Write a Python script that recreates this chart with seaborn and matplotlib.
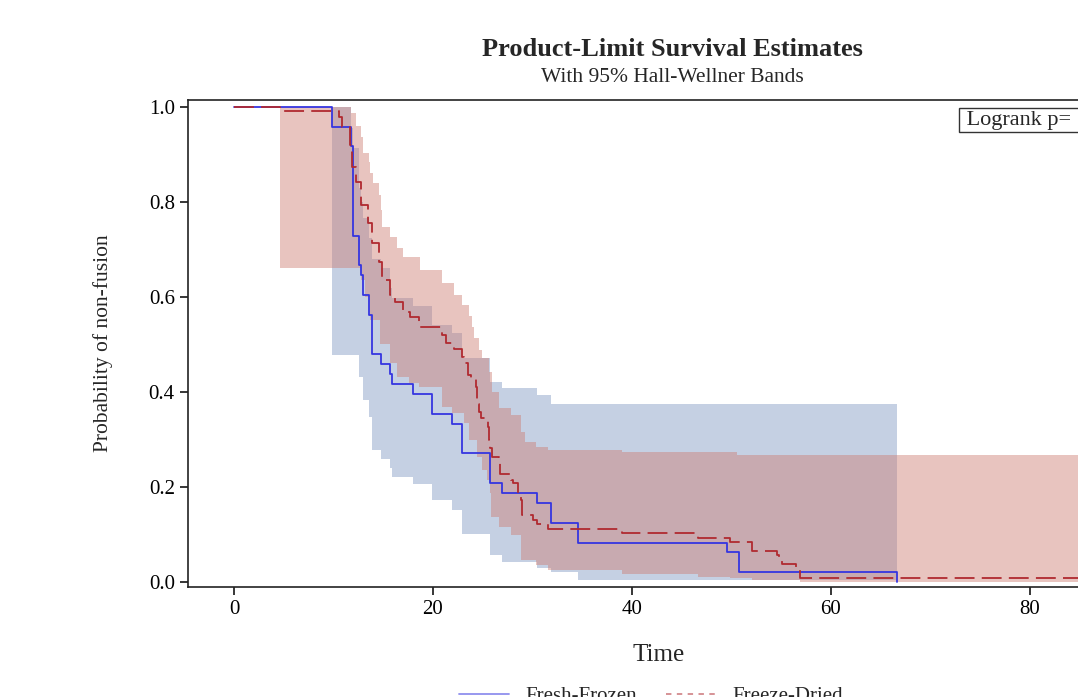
import matplotlib
matplotlib.use("Agg")
import matplotlib.pyplot as plt
from matplotlib.lines import Line2D
import seaborn as sns
import pandas as pd

# Fresh-Frozen: Kaplan-Meier estimate (time of drop, survival after drop)
ff_time = [0, 9.9, 11.8, 12.0, 12.6, 12.8, 13.0, 13.6, 13.9, 14.8, 15.7, 15.9,
           18.0, 19.9, 21.9, 22.9, 25.7, 26.9, 30.5, 31.9, 34.6, 49.6, 50.8, 66.7]
ff_surv = [1.0, 0.958, 0.917, 0.729, 0.667, 0.646, 0.604, 0.563, 0.479, 0.458, 0.438, 0.417,
           0.396, 0.354, 0.333, 0.271, 0.208, 0.188, 0.167, 0.125, 0.083, 0.063, 0.021, 0.0]

# Fresh-Frozen Hall-Wellner band
ff_band_t = [9.9, 11.8, 12.0, 12.6, 12.8, 13.0, 13.6, 13.9, 14.8, 15.7, 15.9, 18.0,
             19.9, 21.9, 22.9, 25.7, 26.9, 30.5, 31.9, 34.6, 66.7]
ff_lower = [0.478, 0.478, 0.478, 0.432, 0.432, 0.383, 0.348, 0.278, 0.259, 0.239, 0.222, 0.206,
            0.173, 0.152, 0.102, 0.057, 0.043, 0.030, 0.022, 0.005, 0.005]
ff_upper = [1.0, 0.955, 0.913, 0.829, 0.80, 0.766, 0.724, 0.68, 0.66, 0.618, 0.597, 0.58,
            0.541, 0.524, 0.471, 0.42, 0.408, 0.394, 0.374, 0.374, 0.374]

# Freeze-Dried: Kaplan-Meier estimate
fd_time = [0, 4.6, 10.6, 10.9, 11.7, 11.9, 12.3, 12.8, 13.5, 13.9, 14.6, 14.9, 15.7,
           16.2, 17.0, 17.7, 18.6, 20.9, 21.3, 22.1, 22.9, 23.1, 23.5, 23.8, 24.3, 24.4,
           24.6, 24.8, 25.5, 25.6, 25.7, 25.9, 26.6, 26.7, 27.9, 28.1, 28.6, 28.9, 29.0,
           30.1, 30.5, 31.6, 39.0, 46.7, 49.9, 52.1, 54.6, 54.8, 55.1, 56.5, 56.9, 90.0]
fd_surv = [1.0, 0.992, 0.978, 0.957, 0.92, 0.874, 0.843, 0.794, 0.755, 0.713, 0.674, 0.636, 0.604,
           0.59, 0.569, 0.558, 0.537, 0.52, 0.503, 0.49, 0.474, 0.46, 0.436, 0.429, 0.411, 0.375,
           0.358, 0.345, 0.327, 0.30, 0.282, 0.264, 0.25, 0.227, 0.215, 0.208, 0.187, 0.173, 0.141,
           0.131, 0.122, 0.112, 0.1025, 0.093, 0.084, 0.065, 0.057, 0.048, 0.038, 0.027, 0.009, 0.009]

# Freeze-Dried Hall-Wellner band
fd_band_t = [4.6, 11.8, 12.3, 12.8, 13.0, 13.2, 13.6, 13.7, 14.0, 14.6, 14.7, 14.8, 14.9,
             15.7, 16.4, 17.0, 17.6, 18.6, 18.7, 20.9, 21.9, 22.1, 22.9, 23.1, 23.6, 23.9,
             24.1, 24.4, 24.6, 24.9, 25.4, 25.6, 25.7, 25.8, 25.9, 26.6, 27.9, 28.9, 29.3,
             30.4, 31.6, 39.0, 46.7, 49.9, 50.6, 52.1, 56.9, 90.0]
fd_lower = [0.662, 0.662, 0.662, 0.636, 0.636, 0.60, 0.60, 0.552, 0.552, 0.552, 0.50, 0.50, 0.50,
            0.46, 0.432, 0.432, 0.418, 0.411, 0.411, 0.369, 0.355, 0.355, 0.355, 0.334, 0.299, 0.299,
            0.299, 0.264, 0.264, 0.236, 0.215, 0.215, 0.187, 0.137, 0.137, 0.116, 0.10, 0.046, 0.046,
            0.035, 0.025, 0.017, 0.011, 0.008, 0.008, 0.004, 0.001, 0.001]
fd_upper = [1.0, 0.987, 0.959, 0.937, 0.903, 0.903, 0.885, 0.86, 0.839, 0.815, 0.815, 0.783, 0.748,
            0.727, 0.703, 0.685, 0.685, 0.685, 0.657, 0.629, 0.629, 0.604, 0.583, 0.583, 0.559, 0.537,
            0.513, 0.513, 0.488, 0.471, 0.471, 0.443, 0.443, 0.443, 0.40, 0.366, 0.352, 0.316, 0.295,
            0.285, 0.278, 0.274, 0.274, 0.274, 0.267, 0.267, 0.267, 0.267]

groups = ["Fresh-Frozen", "Freeze-Dried"]
x_ticks = [0, 20, 40, 60, 80]
y_ticks = [0.0, 0.2, 0.4, 0.6, 0.8, 1.0]

sns.set_style("ticks")
plt.rcParams["font.family"] = ["Liberation Serif", "DejaVu Serif"]

blue_line = "#3535e0"
red_line = "#b02a30"
blue_fill = (129 / 255, 153 / 255, 196 / 255)
red_fill = (205 / 255, 127 / 255, 116 / 255)

fig = plt.figure(figsize=(10.78, 6.97), dpi=100)
ax = fig.add_axes([188 / 1078, 110 / 697, 941 / 1078, 487 / 697])

ax.fill_between(ff_band_t, ff_lower, ff_upper, step="post", color=blue_fill, alpha=0.46, lw=0)
ax.fill_between(fd_band_t, fd_lower, fd_upper, step="post", color=red_fill, alpha=0.46, lw=0)

ff = pd.DataFrame({"time": ff_time, "surv": ff_surv})
fd = pd.DataFrame({"time": fd_time, "surv": fd_surv})
sns.lineplot(data=ff, x="time", y="surv", ax=ax, estimator=None, sort=False,
             drawstyle="steps-post", color=blue_line, lw=1.3)
sns.lineplot(data=fd, x="time", y="surv", ax=ax, estimator=None, sort=False,
             drawstyle="steps-post", color=red_line, lw=1.3, dashes=(11, 4))

ax.set_xlim(-4.63, 90.0)
ax.set_ylim(-0.0105, 1.0147)
ax.set_xticks(x_ticks)
ax.set_yticks(y_ticks)
ax.set_yticklabels([f"{v:.1f}" for v in y_ticks])
ax.tick_params(labelsize=15, length=6, width=1.1, colors="black")
for s in ax.spines.values():
    s.set_linewidth(1.2)
    s.set_color("#222222")
ax.set_xlabel("Time", fontsize=18, labelpad=18)
ax.set_ylabel("Probability of non-fusion", fontsize=15.5, labelpad=26)

fig.text(672 / 1078, 1 - 50 / 697, "Product-Limit Survival Estimates",
         ha="center", va="center", fontsize=19, fontweight="bold")
fig.text(672 / 1078, 1 - 77 / 697, "With 95% Hall-Wellner Bands",
         ha="center", va="center", fontsize=15.5)

fig.text(961 / 1078, 1 - 120 / 697, " Logrank p=            ", ha="left", va="center",
         fontsize=16, bbox=dict(boxstyle="square,pad=0.1", fc="white", ec="#333333", lw=1))

handles = [Line2D([], [], color=blue_line, lw=1.3, alpha=0.55),
           Line2D([], [], color=red_line, lw=1.3, alpha=0.55, dashes=(3, 3))]
fig.legend(handles, groups, loc="center", bbox_to_anchor=(651 / 1078, 1 / 697), ncol=2,
           frameon=False, fontsize=15, handlelength=2.4, handletextpad=0.8, columnspacing=1.4)

fig.savefig("out.png", dpi=100)
